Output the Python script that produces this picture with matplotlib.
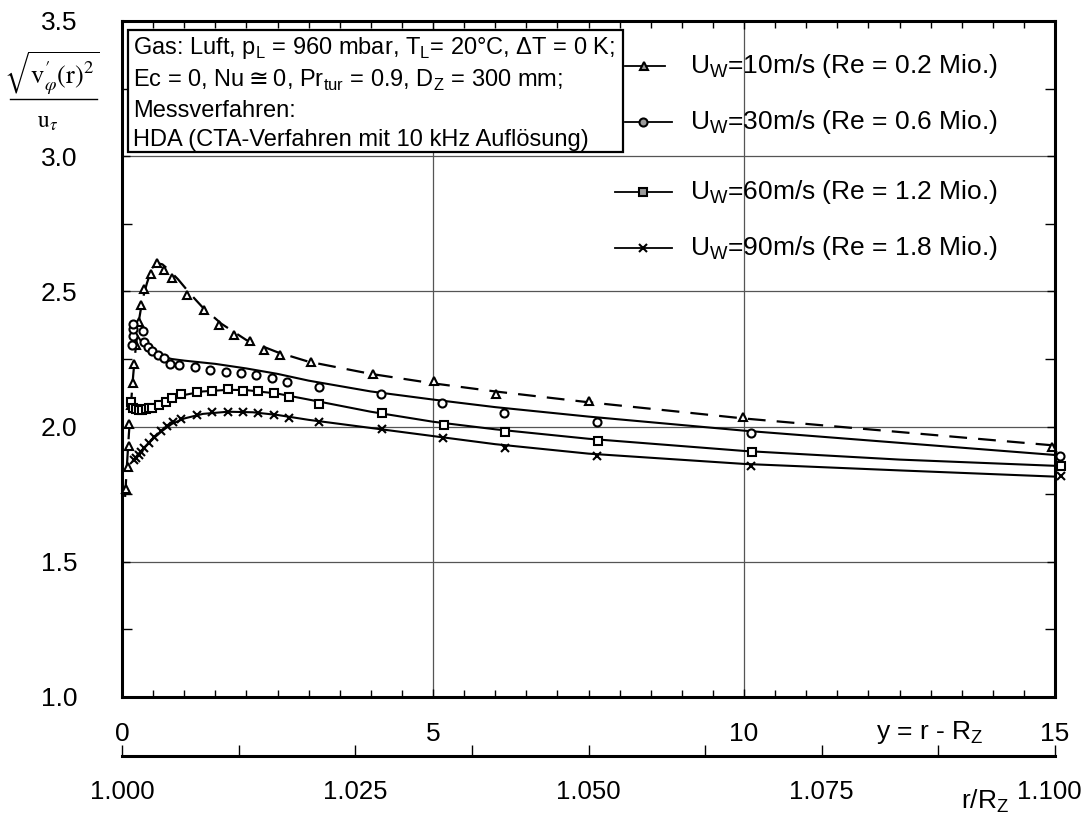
import numpy as np
import matplotlib
matplotlib.use("Agg")
import matplotlib.pyplot as plt
from matplotlib.lines import Line2D
from matplotlib.patches import Rectangle
from matplotlib.ticker import MultipleLocator, FixedLocator
from matplotlib.transforms import ScaledTranslation

plt.rcParams['font.family'] = ['Liberation Sans', 'DejaVu Sans']
plt.rcParams['mathtext.fontset'] = 'custom'
plt.rcParams['mathtext.rm'] = 'Liberation Sans'
plt.rcParams['mathtext.it'] = 'Liberation Sans:italic'

# ---- measured points: wall distance y [mm] and rms tangential fluctuation ----
x_u10 = [0.06, 0.09, 0.11, 0.12, 0.14, 0.17, 0.19, 0.22, 0.27, 0.30, 0.35, 0.46,
         0.57, 0.68, 0.81, 1.05, 1.32, 1.56, 1.80, 2.05, 2.29, 2.54, 3.04, 4.03,
         5.02, 6.02, 7.51, 9.99, 14.95]
y_u10 = [1.77, 1.85, 1.93, 2.01, 2.08, 2.16, 2.23, 2.30, 2.385, 2.45, 2.51, 2.565,
         2.605, 2.58, 2.55, 2.487, 2.43, 2.375, 2.34, 2.318, 2.284, 2.265, 2.238, 2.194,
         2.167, 2.12, 2.096, 2.034, 1.923]

x_u30 = [0.16, 0.17, 0.18, 0.17, 0.33, 0.35, 0.41, 0.49, 0.58, 0.67, 0.77, 0.92,
         1.18, 1.42, 1.67, 1.92, 2.16, 2.41, 2.66, 3.16, 4.16, 5.14, 6.14, 7.63,
         10.11, 15.08]
y_u30 = [2.30, 2.336, 2.36, 2.379, 2.355, 2.312, 2.294, 2.281, 2.265, 2.253, 2.232, 2.226,
         2.22, 2.209, 2.203, 2.20, 2.19, 2.178, 2.164, 2.147, 2.12, 2.086, 2.05, 2.018,
         1.976, 1.89]

x_u60 = [0.14, 0.17, 0.22, 0.27, 0.32, 0.38, 0.44, 0.49, 0.60, 0.70, 0.81, 0.945,
         1.20, 1.44, 1.70, 1.94, 2.19, 2.44, 2.69, 3.17, 4.18, 5.17, 6.16, 7.65,
         10.13, 15.09]
y_u60 = [2.09, 2.07, 2.065, 2.063, 2.062, 2.065, 2.067, 2.07, 2.08, 2.09, 2.105, 2.12,
         2.127, 2.133, 2.139, 2.133, 2.13, 2.124, 2.11, 2.084, 2.05, 2.006, 1.981, 1.946,
         1.905, 1.853]

x_u90 = [0.20, 0.23, 0.27, 0.30, 0.35, 0.43, 0.52, 0.62, 0.73, 0.82, 0.945, 1.20,
         1.44, 1.70, 1.94, 2.19, 2.44, 2.69, 3.17, 4.18, 5.16, 6.15, 7.64, 10.12, 15.09]
y_u90 = [1.875, 1.885, 1.895, 1.905, 1.92, 1.94, 1.96, 1.985, 2.004, 2.016, 2.028, 2.043,
         2.055, 2.055, 2.055, 2.05, 2.044, 2.032, 2.016, 1.991, 1.957, 1.921, 1.89, 1.856,
         1.819]

# ---- fitted profiles ----
fx_u10 = [0.05, 0.08, 0.11, 0.14, 0.18, 0.22, 0.27, 0.33, 0.40, 0.48, 0.56, 0.65, 0.75,
          0.90, 1.10, 1.30, 1.60, 2.00, 2.50, 3.00, 4.00, 5.00, 6.00, 7.50, 10.0, 12.5, 15.0]
fy_u10 = [1.74, 1.86, 1.97, 2.07, 2.19, 2.29, 2.39, 2.47, 2.53, 2.585, 2.605, 2.60, 2.58,
          2.545, 2.49, 2.44, 2.38, 2.32, 2.275, 2.24, 2.195, 2.16, 2.13, 2.09, 2.03, 1.98, 1.93]

fx_u30 = [0.17, 0.22, 0.28, 0.35, 0.45, 0.60, 0.80, 1.0, 1.5, 2.0, 2.5, 3.0, 4.0, 5.0,
          6.0, 7.5, 10.0, 12.5, 15.0]
fy_u30 = [2.36, 2.345, 2.325, 2.30, 2.28, 2.262, 2.25, 2.244, 2.232, 2.215, 2.195, 2.17,
          2.13, 2.10, 2.072, 2.037, 1.985, 1.94, 1.895]

fx_u60 = [0.14, 0.20, 0.30, 0.40, 0.50, 0.60, 0.70, 0.85, 1.0, 1.3, 1.7, 2.0, 2.5, 3.0,
          4.0, 5.0, 6.0, 7.5, 10.0, 12.5, 15.0]
fy_u60 = [2.085, 2.068, 2.062, 2.063, 2.068, 2.077, 2.088, 2.105, 2.117, 2.13, 2.136,
          2.135, 2.122, 2.10, 2.055, 2.018, 1.99, 1.955, 1.91, 1.878, 1.855]

fx_u90 = [0.18, 0.25, 0.35, 0.45, 0.55, 0.65, 0.80, 1.0, 1.3, 1.7, 2.1, 2.5, 3.0, 4.0,
          5.0, 6.0, 7.5, 10.0, 12.5, 15.0]
fy_u90 = [1.875, 1.895, 1.92, 1.945, 1.965, 1.985, 2.01, 2.03, 2.047, 2.055, 2.053,
          2.043, 2.025, 1.995, 1.965, 1.935, 1.90, 1.862, 1.838, 1.815]

legend_labels = [r"U$_\mathregular{W}$=10m/s (Re = 0.2 Mio.)",
                 r"U$_\mathregular{W}$=30m/s (Re = 0.6 Mio.)",
                 r"U$_\mathregular{W}$=60m/s (Re = 1.2 Mio.)",
                 r"U$_\mathregular{W}$=90m/s (Re = 1.8 Mio.)"]

info_lines = [r"Gas: Luft, p$_\mathregular{L}$ = 960 mbar, T$_\mathregular{L}$= 20°C, ΔT = 0 K;",
              r"Ec = 0, Nu$\cong$0, Pr$_\mathregular{tur}$ = 0.9, D$_\mathregular{Z}$ = 300 mm;",
              "Messverfahren:",
              "HDA (CTA-Verfahren mit 10 kHz Auflösung)"]

R_Z = 150.0  # cylinder radius in mm

W, H = 1085, 817
fig = plt.figure(figsize=(W / 100, H / 100), dpi=100)
L, R, T, B = 122, 1055, 21, 697
ax = fig.add_axes([L / W, 1 - B / H, (R - L) / W, (B - T) / H])

ax.set_xlim(0, 15)
ax.set_ylim(1.0, 3.5)

mk = dict(markerfacecolor='white', markeredgecolor='black', markeredgewidth=1.5,
          linestyle='none', clip_on=False, zorder=4)
ax.plot(x_u10, y_u10, marker='^', markersize=6.0, **mk)
ax.plot(x_u30, y_u30, marker='o', markersize=5.8, **mk)
ax.plot(x_u60, y_u60, marker='s', markersize=5.3, **mk)
ax.plot(x_u90, y_u90, marker='x', markersize=5.5, **mk)

ax.plot(fx_u10, fy_u10, color='black', lw=1.6, dashes=(8, 5), zorder=3)
ax.plot(fx_u30, fy_u30, color='black', lw=1.5, zorder=3)
ax.plot(fx_u60, fy_u60, color='black', lw=1.5, zorder=3)
ax.plot(fx_u90, fy_u90, color='black', lw=1.5, zorder=3)

# axes styling
for sp in ax.spines.values():
    sp.set_linewidth(2.2)
ax.xaxis.set_major_locator(MultipleLocator(5))
ax.xaxis.set_minor_locator(MultipleLocator(0.5))
ax.yaxis.set_major_locator(MultipleLocator(0.5))
ax.yaxis.set_minor_locator(MultipleLocator(0.25))
ax.yaxis.set_major_formatter(plt.FormatStrFormatter('%.1f'))
ax.tick_params(which='both', direction='in', top=True, right=True, width=1.0,
               labelsize=19)
ax.tick_params(which='minor', length=5)
ax.tick_params(which='major', length=6)
ax.tick_params(axis='y', which='minor', length=7)
ax.tick_params(axis='y', which='major', pad=32)
ax.tick_params(axis='x', which='major', pad=18)
ax.grid(True, which='major', color='#555555', lw=0.9)
ax.set_axisbelow(True)

# second scale: r/R_Z
sec = ax.secondary_xaxis((B - 756) / (B - T),
                         functions=(lambda y: 1 + y / R_Z, lambda r: (r - 1) * R_Z))
sec.xaxis.set_major_locator(FixedLocator([1.0, 1.025, 1.05, 1.075, 1.1]))
sec.xaxis.set_minor_locator(FixedLocator([1.0125, 1.0375, 1.0625, 1.0875]))
sec.xaxis.set_major_formatter(plt.FormatStrFormatter('%.3f'))
sec.tick_params(which='both', direction='in', length=8, width=1.0, labelsize=18.5, pad=17)
sec.spines['bottom'].set_linewidth(2.2)

ax.text((930 - L) / (R - L), (B - 732) / (B - T), r"y = r - R$_\mathregular{Z}$",
        transform=ax.transAxes, ha='center', va='center', fontsize=19)
fig.text(985 / W, 1 - 801 / H, r"r/R$_\mathregular{Z}$", ha='center', va='center',
         fontsize=19)


def ax_x(px):
    return (px - L) / (R - L)


def ax_y(py):
    return (B - py) / (B - T)


# info box
bx0, bx1 = ax_x(128), ax_x(623)
by0, by1 = ax_y(152), ax_y(30)
ax.add_patch(Rectangle((bx0, by0), bx1 - bx0, by1 - by0, transform=ax.transAxes,
                       facecolor='white', edgecolor='black', lw=1.6, zorder=5))
for py, s in zip([48, 80, 111, 140], info_lines):
    ax.text(ax_x(133), ax_y(py), s, transform=ax.transAxes, ha='left', va='center',
            fontsize=17, zorder=6, math_fontfamily='dejavusans')

# legend keys
keys = [('^', 625, 665, 644, 66, 6.0), ('o', 625, 672, 643, 122, 5.8),
        ('s', 615, 672, 643, 192, 5.3), ('x', 615, 672, 643, 248, 5.5)]
for (m, x0, x1, xm, py, ms), lab in zip(keys, legend_labels):
    ax.add_line(Line2D([ax_x(x0), ax_x(x1)], [ax_y(py)] * 2, transform=ax.transAxes,
                       color='black', lw=1.3, zorder=6))
    ax.add_line(Line2D([ax_x(xm)], [ax_y(py)], transform=ax.transAxes, marker=m,
                       markersize=ms, markerfacecolor='#999999', markeredgecolor='black',
                       markeredgewidth=1.5, linestyle='none', zorder=7))
    ax.text(ax_x(690), ax_y(py), lab, transform=ax.transAxes, ha='left', va='center',
            fontsize=19, zorder=6)

# y-axis quantity
fig.text(52 / W, 1 - 73 / H, r"$\sqrt{\mathrm{v}^{\prime}_{\varphi}(\mathrm{r})^{2}}$",
         ha='center', va='center', fontsize=19, math_fontfamily='stix')
fig.add_artist(Line2D([10 / W, 97 / W], [1 - 99 / H] * 2, color='black', lw=1.0))
fig.text(48 / W, 1 - 122 / H, r"$\mathrm{u}_{\tau}$", ha='center', va='center',
         fontsize=17, math_fontfamily='stix')

# keep the last r/R_Z label inside the canvas
fig.canvas.draw()
last = sec.xaxis.get_majorticklabels()[-1]
last.set_transform(last.get_transform() +
                   ScaledTranslation(-6 / 100, 0, fig.dpi_scale_trans))

fig.savefig("out.png", dpi=100)
